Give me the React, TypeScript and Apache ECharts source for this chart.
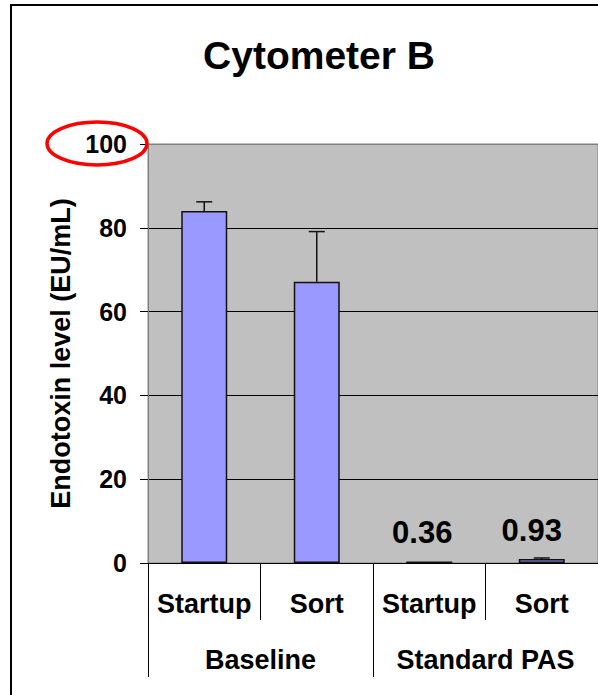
import React, { useEffect, useRef } from "react";
import * as echarts from "echarts";

const groups = ["Baseline", "Standard PAS"];
const categories = ["Startup", "Sort", "Startup", "Sort"];
const values = [84.0, 67.1, 0.36, 0.93];
const errors = [2.2, 12.0, 0, 0.27];
const shownLabels = [false, false, true, true];
const yTicks = [0, 20, 40, 60, 80, 100];

const FONT = "'Liberation Sans', Arial, sans-serif";

export default function App() {
  const ref = useRef<HTMLDivElement>(null);
  useEffect(() => {
    if (!ref.current) return;
    const chart = echarts.init(ref.current, null, { renderer: "svg" });
    const labelOffsets = [[0, 0], [0, 0], [-7, 0], [-10, 0]];
    chart.setOption({
      animation: false,
      backgroundColor: "#fff",
      textStyle: { fontFamily: FONT },
      title: {
        text: "Cytometer B",
        left: 314,
        top: 31,
        textAlign: "center",
        textStyle: { fontFamily: FONT, fontSize: 39, fontWeight: "bold", color: "#000" },
      },
      graphic: [
        {
          type: "rect",
          shape: { x: 11, y: 5, width: 700, height: 800 },
          style: { fill: "none", stroke: "#000", lineWidth: 2 },
          silent: true,
        },
        {
          type: "ellipse",
          shape: { cx: 97, cy: 143.5, rx: 50, ry: 21.5 },
          style: { fill: "none", stroke: "#ff0000", lineWidth: 3.5 },
          silent: true,
          z: 100,
        },
      ],
      grid: {
        left: 148,
        top: 144,
        width: 452,
        bottom: 132,
        show: true,
        backgroundColor: "#c0c0c0",
        borderColor: "#808080",
        borderWidth: 1,
      },
      xAxis: [
        {
          type: "category",
          data: categories,
          position: "bottom",
          axisLine: { show: true, lineStyle: { color: "#000", width: 1 } },
          axisTick: { show: true, interval: 0, length: 57, lineStyle: { color: "#000", width: 1 } },
          axisLabel: {
            interval: 0,
            margin: 27,
            fontFamily: FONT,
            fontSize: 27,
            fontWeight: "bold",
            color: "#000",
          },
          splitLine: { show: false },
        },
        {
          type: "category",
          data: groups,
          position: "bottom",
          axisLine: { show: false },
          axisTick: { show: true, interval: 0, length: 114, lineStyle: { color: "#000", width: 1 } },
          axisLabel: {
            interval: 0,
            margin: 83,
            fontFamily: FONT,
            fontSize: 27,
            fontWeight: "bold",
            color: "#000",
          },
          splitLine: { show: false },
        },
      ],
      yAxis: {
        type: "value",
        min: yTicks[0],
        max: yTicks[yTicks.length - 1],
        interval: 20,
        name: "Endotoxin level (EU/mL)",
        nameLocation: "middle",
        nameRotate: 90,
        nameGap: 74,
        nameTextStyle: { fontFamily: FONT, fontSize: 27, fontWeight: "bold", color: "#000" },
        axisLine: { show: true, lineStyle: { color: "#808080", width: 1 } },
        axisTick: { show: true, length: 8, lineStyle: { color: "#000" } },
        axisLabel: {
          margin: 21,
          fontFamily: FONT,
          fontSize: 25,
          fontWeight: "bold",
          color: "#000",
        },
        splitLine: {
          show: true,
          lineStyle: { color: ["#000", "#000", "#000", "#000", "#000", "#808080"], width: 1 },
        },
      },
      series: [
        {
          type: "bar",
          xAxisIndex: 0,
          barWidth: 46,
          itemStyle: { color: "#9999ff", borderColor: "#111", borderWidth: 1.5 },
          data: values.map((v, i) => ({
            value: v,
            label: {
              show: shownLabels[i],
              position: "top",
              distance: 13,
              offset: labelOffsets[i],
              formatter: String(v),
              fontFamily: FONT,
              fontSize: 31,
              fontWeight: "bold",
              color: "#000",
            },
          })),
          z: 2,
        },
        {
          type: "custom",
          xAxisIndex: 0,
          z: 3,
          data: values.map((v, i) => [i, v, errors[i]]),
          renderItem: (params: any, api: any) => {
            const x = api.value(0);
            const v = api.value(1);
            const e = api.value(2);
            if (!e) return null;
            const base = api.coord([x, v]);
            const top = api.coord([x, v + e]);
            const cap = 8;
            return {
              type: "group",
              children: [
                {
                  type: "line",
                  shape: { x1: base[0], y1: base[1], x2: top[0], y2: top[1] },
                  style: { stroke: "#111", lineWidth: 1.5 },
                },
                {
                  type: "line",
                  shape: { x1: top[0] - cap, y1: top[1], x2: top[0] + cap, y2: top[1] },
                  style: { stroke: "#111", lineWidth: 1.5 },
                },
              ],
            };
          },
        },
      ],
    });
    return () => chart.dispose();
  }, []);
  return (
    <div
      ref={ref}
      style={{ position: "absolute", left: 0, top: 0, width: 598, height: 695 }}
    />
  );
}
